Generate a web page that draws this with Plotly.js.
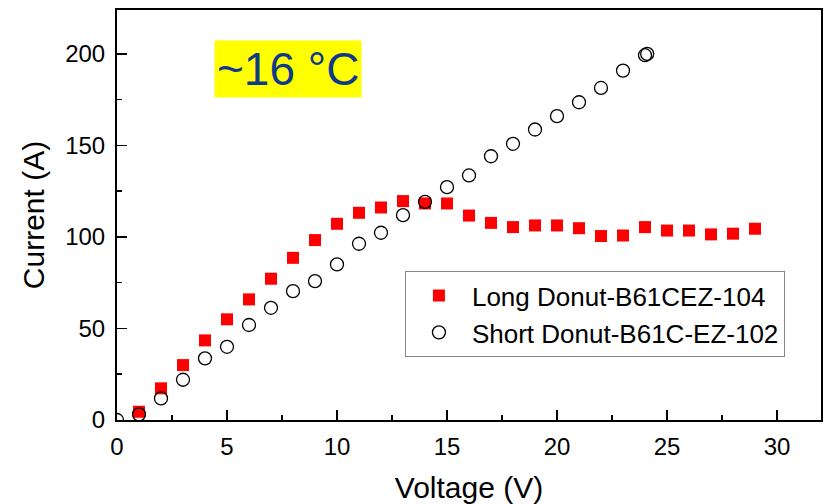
<!DOCTYPE html>
<html>
<head>
<meta charset="utf-8">
<script src="https://cdn.plot.ly/plotly-3.0.1.min.js"></script>
<style>html,body{margin:0;padding:0;background:#fff;}#chart{width:831px;height:504px;}</style>
</head>
<body>
<div id="chart"></div>
<script>
const longName = "Long Donut-B61CEZ-104";
const shortName = "Short Donut-B61C-EZ-102";
const longV = [1,2,3,4,5,6,7,8,9,10,11,12,13,14,15,16,17,18,19,20,21,22,23,24,25,26,27,28,29];
const longI = [4.5,17.3,30,43.5,55,65.9,77.2,88.6,98.3,107.2,113.2,116.1,119.6,118.3,118.3,111.7,107.7,105.4,106.3,106.3,104.8,100.5,100.8,105.4,103.5,103.5,101.4,101.8,104.5];
const shortV = [0,1,2,3,4,5,6,7,8,9,10,11,12,13,14,15,16,17,18,19,20,21,22,23,24,24.1];
const shortI = [0,3.1,11.8,22,33.7,40,51.9,61.3,70.4,75.9,85,96.3,102.3,111.9,119.2,127.2,133.6,144.1,150.9,158.7,166,173.6,181.4,190.9,199.3,200];
const annotationText = "~16 °C";
const xTickVals = [0,5,10,15,20,25,30];
const yTickVals = [0,50,100,150,200];

const font = "Liberation Sans, Arial, sans-serif";
const traces = [
  {x: longV, y: longI, name: longName, type: "scatter", mode: "markers",
   marker: {symbol: "square", size: 12, color: "#ff0000", line: {width: 0}}, cliponaxis: true},
  {x: shortV, y: shortI, name: shortName, type: "scatter", mode: "markers",
   marker: {symbol: "circle-open", size: 13, color: "#000000", line: {width: 1.3, color: "#000"}}, cliponaxis: true}
];
const axisCommon = {
  showgrid: false, zeroline: false, showline: true, linecolor: "#000", linewidth: 2, mirror: true,
  ticks: "inside", ticklen: 10, tickwidth: 1.5, tickcolor: "#000",
  tickfont: {family: font, size: 24, color: "#000"}
};
const layout = {
  width: 831, height: 504,
  margin: {l: 117, r: 10, t: 10, b: 84},
  paper_bgcolor: "#fff", plot_bgcolor: "#fff",
  showlegend: true,
  legend: {x: 0.409, y: 0.363, xanchor: "left", yanchor: "top",
           bordercolor: "#888", borderwidth: 1, bgcolor: "#fff",
           font: {family: font, size: 26, color: "#000"}, itemwidth: 56, tracegroupgap: 0},
  xaxis: Object.assign({}, axisCommon, {
    range: [0, 32], tickvals: xTickVals, ticklabelstandoff: 4,
    minor: {dtick: 2.5, tick0: 0, ticks: "inside", ticklen: 5, tickwidth: 1.5, tickcolor: "#000"},
    title: {text: "Voltage (V)", font: {family: font, size: 30, color: "#000"}, standoff: 18}
  }),
  yaxis: Object.assign({}, axisCommon, {
    range: [0, 224], tickvals: yTickVals, ticklabelstandoff: 5,
    minor: {dtick: 25, tick0: 0, ticks: "inside", ticklen: 5, tickwidth: 1.5, tickcolor: "#000"},
    title: {text: "Current (A)", font: {family: font, size: 30, color: "#000"}, standoff: 12}
  }),
  annotations: [{
    xref: "paper", yref: "paper", x: 0.2423, y: 0.857, xanchor: "center", yanchor: "middle",
    text: annotationText, showarrow: false, bgcolor: "#ffff00", borderpad: 2,
    font: {family: font, size: 46, color: "#0f3a8c"}
  }]
};
Plotly.newPlot("chart", traces, layout, {displayModeBar: false, staticPlot: true});
</script>
</body>
</html>
